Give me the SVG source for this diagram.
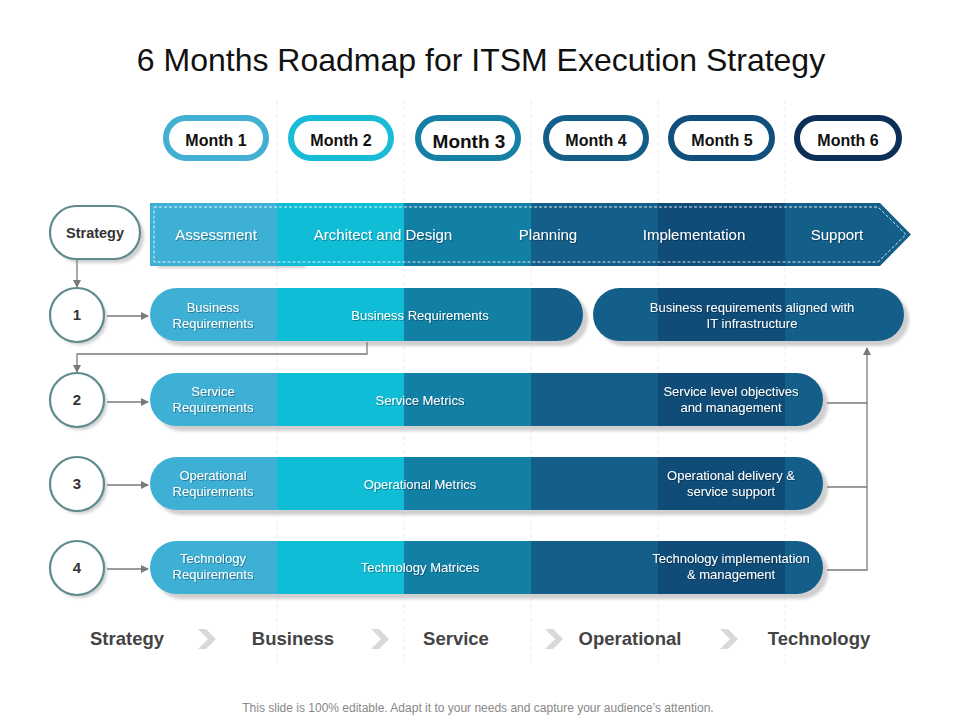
<svg xmlns="http://www.w3.org/2000/svg" width="960" height="720" viewBox="0 0 960 720">
<defs>
<style>
.title{font-family:"Liberation Sans",Arial,sans-serif;font-size:32px;fill:#111;text-anchor:middle}
.month{font-family:"Liberation Sans",Arial,sans-serif;font-size:16px;font-weight:bold;fill:#111;text-anchor:middle}
.band{font-family:"Liberation Sans",Arial,sans-serif;font-size:15px;fill:#fff;text-anchor:middle}
.bar{font-family:"Liberation Sans",Arial,sans-serif;font-size:13px;fill:#fff;text-anchor:middle}
.num{font-family:"Liberation Sans",Arial,sans-serif;font-size:15px;font-weight:bold;fill:#333;text-anchor:middle}
.foot{font-family:"Liberation Sans",Arial,sans-serif;font-size:18.5px;font-weight:bold;fill:#444;text-anchor:middle}
.note{font-family:"Liberation Sans",Arial,sans-serif;font-size:12px;fill:#888;text-anchor:middle}
.pill{fill:#fff;stroke-width:6}
.node{fill:#fff;stroke:#5f8b8c;stroke-width:2.2}
.shade{fill:#cfcfcf;filter:url(#blur)}
.conn{fill:none;stroke:#7a7a7a;stroke-width:1.3}
.grid{stroke:#ececec;stroke-width:1;stroke-dasharray:4 3}
.chev{fill:#d9d9d9}
</style>
<linearGradient id="cols" gradientUnits="userSpaceOnUse" x1="0" y1="0" x2="960" y2="0">
<stop offset="0" stop-color="#3eb0d5"/>
<stop offset="0.28854" stop-color="#3eb0d5"/>
<stop offset="0.28854" stop-color="#10bdd6"/>
<stop offset="0.42083" stop-color="#10bdd6"/>
<stop offset="0.42083" stop-color="#127fa5"/>
<stop offset="0.55313" stop-color="#127fa5"/>
<stop offset="0.55313" stop-color="#145f8a"/>
<stop offset="0.68542" stop-color="#145f8a"/>
<stop offset="0.68542" stop-color="#0f4c78"/>
<stop offset="0.81771" stop-color="#0f4c78"/>
<stop offset="0.81771" stop-color="#145f8a"/>
<stop offset="1" stop-color="#145f8a"/>
</linearGradient>
<filter id="blur" x="-10%" y="-30%" width="120%" height="160%"><feGaussianBlur stdDeviation="1.5"/></filter>
<filter id="ts" x="-5%" y="-30%" width="110%" height="160%"><feDropShadow dx="0.8" dy="0.8" stdDeviation="0.6" flood-color="#000" flood-opacity="0.4"/></filter>
<marker id="arr" markerWidth="8" markerHeight="8" refX="7" refY="4" orient="auto" markerUnits="userSpaceOnUse">
<path d="M0,0 L8,4 L0,8 Z" fill="#7a7a7a"/>
</marker>
</defs>
<rect width="960" height="720" fill="#fff"/>

<g id="gridlines">
<line class="grid" x1="277" y1="100" x2="277" y2="665"/>
<line class="grid" x1="404" y1="100" x2="404" y2="665"/>
<line class="grid" x1="531" y1="100" x2="531" y2="665"/>
<line class="grid" x1="658" y1="100" x2="658" y2="665"/>
<line class="grid" x1="785" y1="100" x2="785" y2="665"/>
</g>

<text class="title" x="481" y="71">6 Months Roadmap for ITSM Execution Strategy</text>

<g id="months">
<g id="month1"><rect class="pill" x="166" y="118" width="100" height="40" rx="20" stroke="#42afd3"/><text class="month" x="216" y="146">Month 1</text></g>
<g id="month2"><rect class="pill" x="291" y="118" width="100" height="40" rx="20" stroke="#18bcd6"/><text class="month" x="341" y="146">Month 2</text></g>
<g id="month3"><rect class="pill" x="418" y="118" width="100" height="40" rx="20" stroke="#1580a6"/><text class="month" x="469" y="148" style="font-size:19px">Month 3</text></g>
<g id="month4"><rect class="pill" x="546" y="118" width="100" height="40" rx="20" stroke="#145f8a"/><text class="month" x="596" y="146">Month 4</text></g>
<g id="month5"><rect class="pill" x="671" y="118" width="101" height="40" rx="20" stroke="#11507c"/><text class="month" x="722" y="146">Month 5</text></g>
<g id="month6"><rect class="pill" x="797" y="118" width="102" height="40" rx="20" stroke="#0b2f59"/><text class="month" x="848" y="146">Month 6</text></g>
</g>

<g id="strategy-node">
<rect class="shade" x="54" y="210" width="90" height="53" rx="26.5"/>
<rect class="node" x="50" y="206" width="90" height="53" rx="26.5"/>
<text class="num" x="95" y="238" style="font-size:14.5px">Strategy</text>
</g>

<g id="strategy-band">
<rect class="shade" x="158" y="262" width="148" height="6"/>
<path d="M150,203 H880 L911,234.5 L880,266 H150 Z" fill="url(#cols)"/>
<path d="M154,207 H878 L906,234.5 L878,262 H154 Z" fill="none" stroke="#fff" stroke-width="1" stroke-dasharray="3 2" opacity="0.85"/>
<g filter="url(#ts)">
<text class="band" x="216" y="240">Assessment</text>
<text class="band" x="383" y="240">Architect and Design</text>
<text class="band" x="548" y="240">Planning</text>
<text class="band" x="694" y="240">Implementation</text>
<text class="band" x="837" y="240">Support</text>
</g>
</g>

<g id="circles">
<g id="c1"><circle class="shade" cx="80" cy="318" r="27"/><circle class="node" cx="77" cy="315" r="27"/><text class="num" x="77" y="320">1</text></g>
<g id="c2"><circle class="shade" cx="80" cy="403" r="27"/><circle class="node" cx="77" cy="400" r="27"/><text class="num" x="77" y="405">2</text></g>
<g id="c3"><circle class="shade" cx="80" cy="487" r="27"/><circle class="node" cx="77" cy="484" r="27"/><text class="num" x="77" y="489">3</text></g>
<g id="c4"><circle class="shade" cx="80" cy="571" r="27"/><circle class="node" cx="77" cy="568" r="27"/><text class="num" x="77" y="573">4</text></g>
</g>

<g id="row1">
<rect class="shade" x="155" y="293" width="433" height="53" rx="26.5"/>
<rect x="150" y="288" width="433" height="53" rx="26.5" fill="url(#cols)"/>
<rect class="shade" x="598" y="293" width="311" height="53" rx="26.5"/>
<rect x="593" y="288" width="311" height="53" rx="26.5" fill="url(#cols)"/>
<g filter="url(#ts)">
<text class="bar" x="213" y="312">Business</text>
<text class="bar" x="213" y="328">Requirements</text>
<text class="bar" x="420" y="320">Business Requirements</text>
<text class="bar" x="752" y="312">Business requirements  aligned with</text>
<text class="bar" x="752" y="328">IT infrastructure</text>
</g>
</g>

<g id="row2">
<rect class="shade" x="155" y="378" width="673" height="53" rx="26.5"/>
<rect x="150" y="373" width="673" height="53" rx="26.5" fill="url(#cols)"/>
<g filter="url(#ts)">
<text class="bar" x="213" y="396">Service</text>
<text class="bar" x="213" y="412">Requirements</text>
<text class="bar" x="420" y="405">Service  Metrics</text>
<text class="bar" x="731" y="396">Service level objectives</text>
<text class="bar" x="731" y="412">and management</text>
</g>
</g>

<g id="row3">
<rect class="shade" x="155" y="462" width="673" height="53" rx="26.5"/>
<rect x="150" y="457" width="673" height="53" rx="26.5" fill="url(#cols)"/>
<g filter="url(#ts)">
<text class="bar" x="213" y="480">Operational</text>
<text class="bar" x="213" y="496">Requirements</text>
<text class="bar" x="420" y="489">Operational  Metrics</text>
<text class="bar" x="731" y="480">Operational  delivery  &amp;</text>
<text class="bar" x="731" y="496">service  support</text>
</g>
</g>

<g id="row4">
<rect class="shade" x="155" y="546" width="673" height="53" rx="26.5"/>
<rect x="150" y="541" width="673" height="53" rx="26.5" fill="url(#cols)"/>
<g filter="url(#ts)">
<text class="bar" x="213" y="563">Technology</text>
<text class="bar" x="213" y="579">Requirements</text>
<text class="bar" x="420" y="572">Technology  Matrices</text>
<text class="bar" x="731" y="563">Technology  implementation</text>
<text class="bar" x="731" y="579">&amp; management</text>
</g>
</g>

<g id="connectors">
<path class="conn" d="M77,260 V287" marker-end="url(#arr)"/>
<path class="conn" d="M107,316 H148" marker-end="url(#arr)"/>
<path class="conn" d="M107,402 H148" marker-end="url(#arr)"/>
<path class="conn" d="M107,485 H148" marker-end="url(#arr)"/>
<path class="conn" d="M107,569 H148" marker-end="url(#arr)"/>
<path class="conn" d="M367,342 V354 H77 V372" marker-end="url(#arr)"/>
<path class="conn" d="M827,403 H867"/>
<path class="conn" d="M827,487 H867"/>
<path class="conn" d="M827,570 H867 V348" marker-end="url(#arr)"/>
</g>

<g id="stages">
<text class="foot" x="127" y="645">Strategy</text>
<polygon class="chev" points="198,629 206,629 216,639 206,649 198,649 208,639"/>
<text class="foot" x="293" y="645">Business</text>
<polygon class="chev" points="371,629 379,629 389,639 379,649 371,649 381,639"/>
<text class="foot" x="456" y="645">Service</text>
<polygon class="chev" points="545,629 553,629 563,639 553,649 545,649 555,639"/>
<text class="foot" x="630" y="645">Operational</text>
<polygon class="chev" points="720,629 728,629 738,639 728,649 720,649 730,639"/>
<text class="foot" x="819" y="645">Technology</text>
</g>

<text class="note" x="478" y="712">This slide is 100% editable. Adapt it to your needs and capture your audience’s attention.</text>
</svg>
